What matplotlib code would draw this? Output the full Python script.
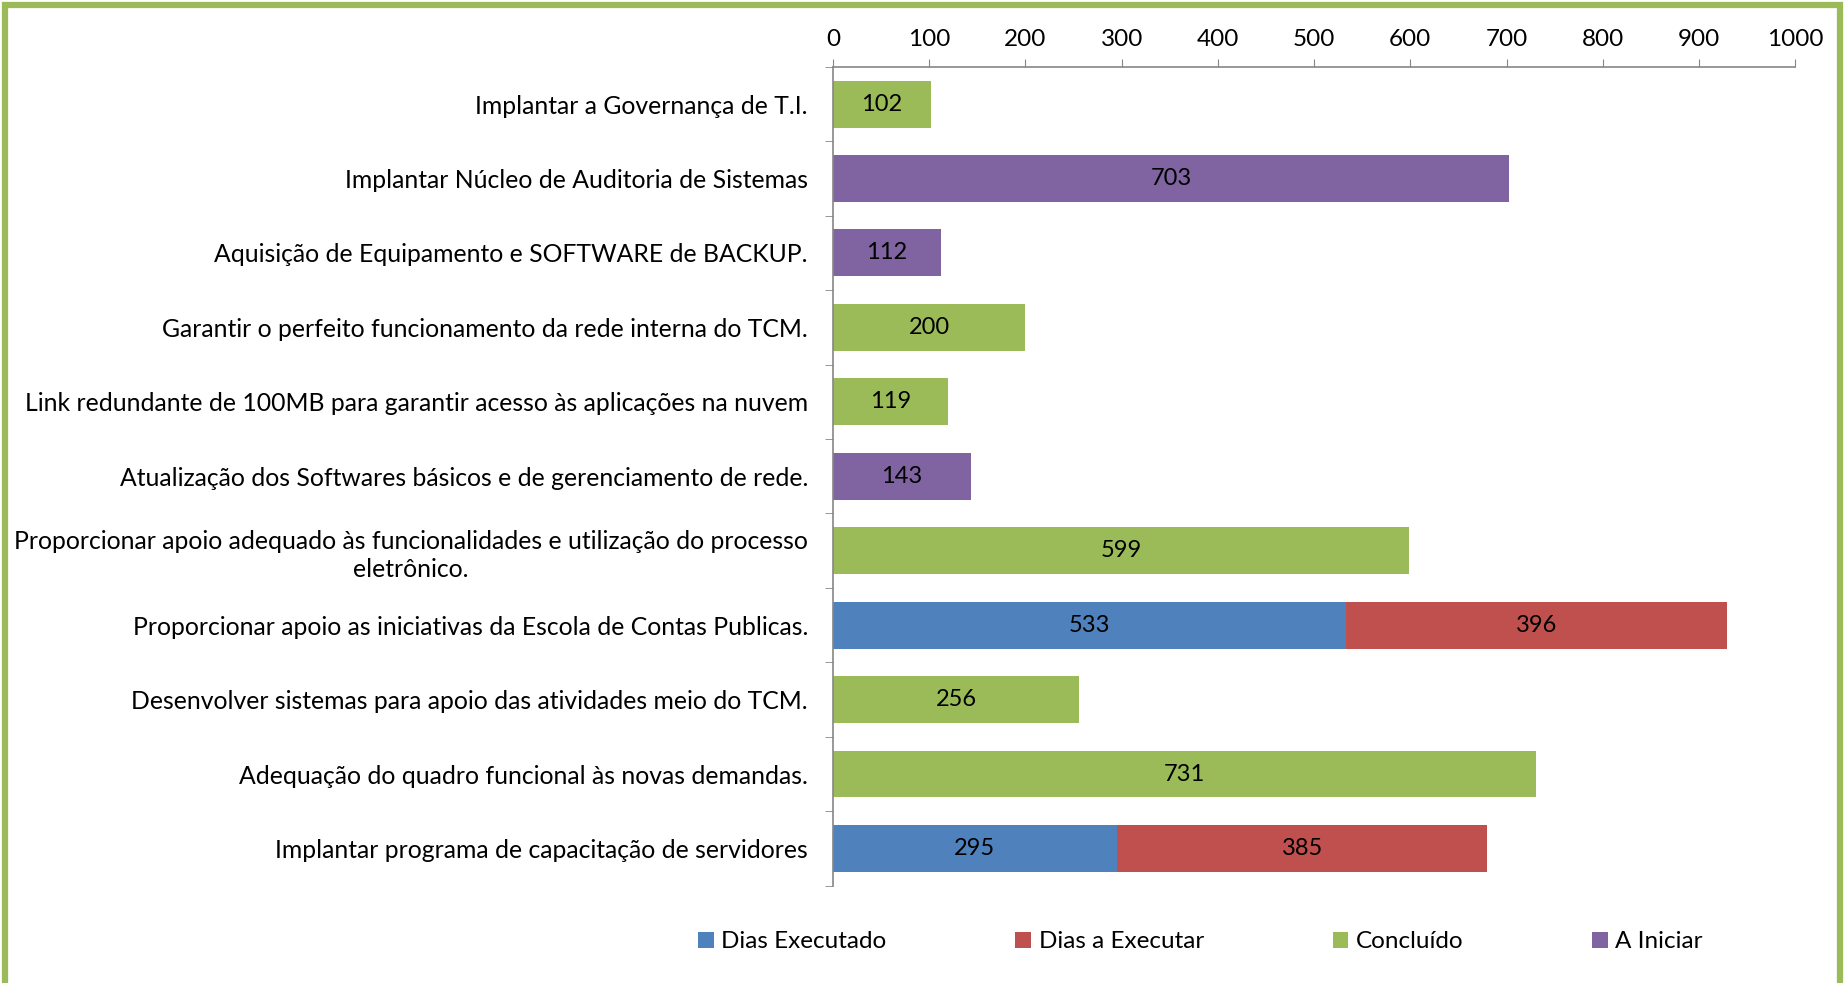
import matplotlib.pyplot as plt
from matplotlib.patches import Rectangle
import numpy as np

plt.rcParams['font.family'] = ['Lato', 'DejaVu Sans']

categories = [
    "Implantar a Governança de T.I.",
    "Implantar Núcleo de Auditoria de Sistemas",
    "Aquisição de Equipamento e SOFTWARE de BACKUP.",
    "Garantir o perfeito funcionamento da rede interna do TCM.",
    "Link redundante de 100MB para garantir acesso às aplicações na nuvem",
    "Atualização dos Softwares básicos e de gerenciamento de rede.",
    "Proporcionar apoio adequado às funcionalidades e utilização do processo\neletrônico.",
    "Proporcionar apoio as iniciativas da Escola de Contas Publicas.",
    "Desenvolver sistemas para apoio das atividades meio do TCM.",
    "Adequação do quadro funcional às novas demandas.",
    "Implantar programa de capacitação de servidores",
]
dias_executado = [0, 0, 0, 0, 0, 0, 0, 533, 0, 0, 295]
dias_a_executar = [0, 0, 0, 0, 0, 0, 0, 396, 0, 0, 385]
concluido = [102, 0, 0, 200, 119, 0, 599, 0, 256, 731, 0]
a_iniciar = [0, 703, 112, 0, 0, 143, 0, 0, 0, 0, 0]

series = [
    ("Dias Executado", dias_executado, "#4F81BD"),
    ("Dias a Executar", dias_a_executar, "#C0504D"),
    ("Concluído", concluido, "#9BBB59"),
    ("A Iniciar", a_iniciar, "#8064A2"),
]

fig = plt.figure(figsize=(18.47, 9.83), dpi=100)
ax = fig.add_axes([0.451, 0.099, 0.521, 0.833])

y = np.arange(len(categories))
left = np.zeros(len(categories))
for name, vals, color in series:
    vals = np.array(vals, dtype=float)
    bars = ax.barh(y, vals, left=left, height=0.63, color=color, label=name)
    for b, v in zip(bars, vals):
        if v > 0:
            ax.text(b.get_x() + b.get_width() / 2, b.get_y() + b.get_height() / 2,
                    f"{int(v)}", ha='center', va='center', fontsize=17, color='black')
    left += vals

ax.set_xlim(0, 1000)
ax.set_ylim(len(categories) - 0.5, -0.5)
ax.xaxis.tick_top()
ax.set_xticks(np.arange(0, 1001, 100))
ax.tick_params(axis='x', labelsize=17.5, length=6, color='#868686', pad=6)

# category labels between boundary ticks, like Excel
ax.set_yticks(y)
ax.set_yticklabels(categories, fontsize=17.8, ha='right', multialignment='center',
                   linespacing=1.3)
ax.tick_params(axis='y', length=0, pad=18)
ax.set_yticks(np.arange(-0.5, len(categories), 1), minor=True)
ax.tick_params(axis='y', which='minor', length=6, color='#868686')

for s in ['right', 'bottom']:
    ax.spines[s].set_visible(False)
for s in ['top', 'left']:
    ax.spines[s].set_color('#868686')
    ax.spines[s].set_linewidth(1.2)

leg = fig.legend(loc='center', bbox_to_anchor=(0.650, 0.042), ncol=4, frameon=False,
                 fontsize=17.5, handlelength=0.65, handleheight=0.65, handletextpad=0.3,
                 columnspacing=5.3)

fig.patches.append(Rectangle((0.0025, -0.05), 0.9935, 1.045, transform=fig.transFigure,
                             fill=False, edgecolor='#9BBB59', linewidth=4.5))

fig.savefig("out.png", dpi=100, facecolor='white')
